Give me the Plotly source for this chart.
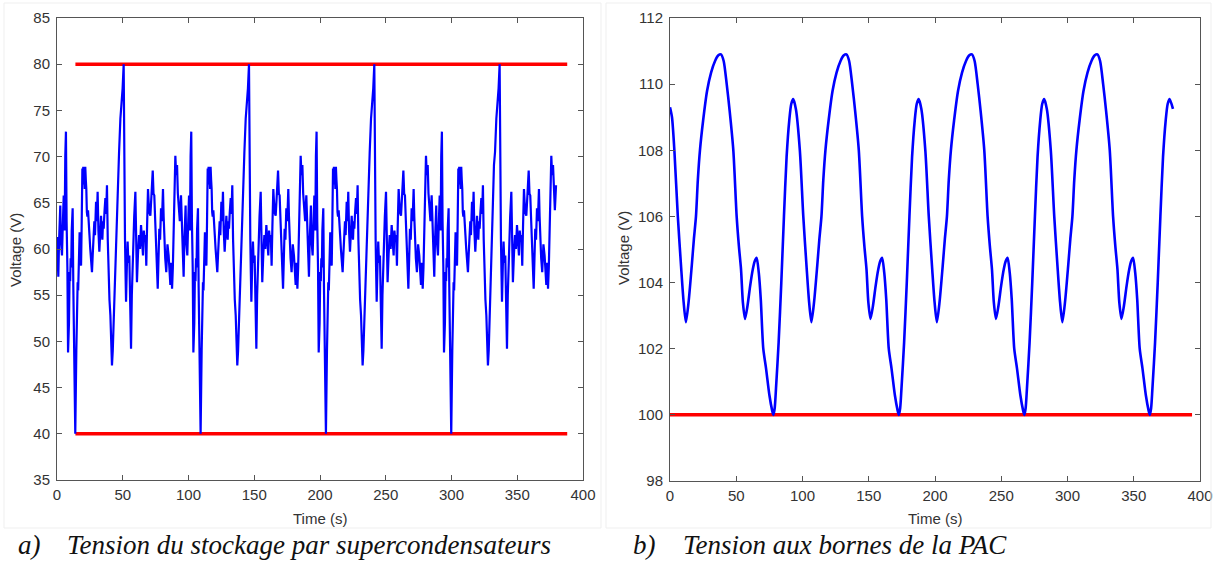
import plotly.graph_objects as go

# ---------------- Data: (a) supercapacitor storage voltage ----------------
# value pattern read from one cycle of the picture (the signal repeats ~every 95.3 s)
sc_cycle_v = [61.3, 58.5, 57.0, 60.5, 62.5, 64.7, 61.0, 59.5, 59.3, 61.5,
              63.0, 65.8, 63.5, 62.0, 70.0, 72.7, 63.0, 58.0, 48.8, 50.5,
              52.0, 57.5, 56.5, 59.0, 58.0, 62.0, 64.4, 56.0, 51.5, 50.3,
              40.0, 49.0, 54.0, 56.4, 55.5, 58.5, 57.8, 61.8, 60.5, 58.2,
              63.0, 68.7, 68.0, 68.9, 67.0, 67.5, 66.5, 68.9, 67.5, 66.5,
              64.0, 63.5, 64.2, 62.2, 61.5, 60.0, 58.5, 57.5, 59.5, 62.2,
              63.0, 61.5, 64.0, 65.1, 63.0, 66.2, 62.0, 59.7, 61.5, 63.6,
              62.0, 61.0, 63.0, 62.2, 64.0, 65.5, 63.8, 66.9, 61.0, 56.4,
              54.5, 52.8, 50.5, 47.4, 49.0, 52.1, 57.0, 61.5, 65.0, 69.1,
              70.5, 74.1, 75.5, 77.4, 80.0, 66.0, 61.1, 57.5, 54.3, 58.0,
              60.8, 58.5, 59.3, 54.5, 49.2, 55.0, 60.4, 63.5, 66.2, 61.0,
              56.4, 59.5, 61.5, 60.0, 62.6, 61.0, 59.3, 62.0, 60.8, 61.5,
              58.2, 62.5, 66.5, 64.0, 63.6, 66.0, 68.5, 66.0, 65.8, 63.0,
              60.0, 58.0, 55.7, 59.0, 62.2, 61.0, 64.4, 63.0, 66.5, 63.5,
              60.8, 59.0, 57.5, 60.5, 59.3, 57.5, 56.1, 58.5, 55.7, 58.0,
              61.5, 66.0, 70.1, 68.0, 69.1, 66.0, 64.7, 63.0, 65.8]
sc_t1 = [0.0, 0.5, 1.0, 1.5, 2.0, 2.5, 2.9, 3.3, 3.8, 4.2,
         4.6, 5.1, 5.5, 5.8, 6.3, 6.8, 7.3, 7.9, 8.4, 8.8,
         9.1, 9.6, 10.0, 10.4, 10.8, 11.2, 11.9, 12.4, 12.8, 13.2,
         13.9, 14.7, 15.2, 15.7, 16.1, 16.5, 16.9, 17.2, 17.7, 18.3,
         18.8, 19.3, 19.6, 20.0, 20.4, 20.8, 21.1, 21.5, 21.9, 22.3,
         22.7, 23.1, 23.6, 24.1, 24.7, 25.3, 25.9, 26.6, 27.2, 27.9,
         28.4, 28.9, 29.3, 29.7, 30.3, 30.9, 31.5, 32.2, 32.8, 33.5,
         34.0, 34.5, 35.0, 35.5, 36.1, 36.8, 37.4, 38.0, 38.6, 39.3,
         39.9, 40.6, 41.2, 41.8, 42.4, 43.1, 44.0, 44.9, 45.6, 46.4,
         47.2, 48.2, 49.0, 49.9, 50.7, 51.2, 51.7, 52.1, 52.5, 53.1,
         53.7, 54.3, 55.0, 55.6, 56.3, 56.9, 57.8, 58.7, 59.6, 60.2,
         60.8, 61.6, 62.4, 63.1, 63.9, 64.6, 65.4, 66.0, 66.7, 67.3,
         67.9, 68.5, 69.2, 70.1, 71.0, 71.9, 72.8, 73.4, 74.0, 74.7,
         75.5, 76.0, 76.6, 77.2, 77.8, 78.4, 79.1, 79.8, 80.6, 81.1,
         81.6, 82.3, 83.1, 84.0, 84.9, 85.5, 86.2, 86.9, 87.5, 88.1,
         88.7, 89.4, 90.0, 90.6, 91.3, 91.9, 92.5, 93.4, 94.3]
sc_t2 = [95.3, 95.8, 96.3, 96.8, 97.3, 97.8, 98.2, 98.6, 99.1, 99.5,
         99.9, 100.4, 100.8, 101.1, 101.6, 102.1, 102.6, 103.2, 103.7, 104.1,
         104.4, 104.9, 105.3, 105.7, 106.1, 106.5, 107.2, 107.7, 108.1, 108.5,
         109.2, 110.0, 110.5, 111.0, 111.4, 111.8, 112.2, 112.5, 113.0, 113.6,
         114.1, 114.6, 114.9, 115.3, 115.7, 116.1, 116.4, 116.8, 117.2, 117.6,
         118.0, 118.4, 118.9, 119.4, 120.0, 120.6, 121.2, 121.9, 122.5, 123.2,
         123.7, 124.2, 124.6, 125.0, 125.6, 126.2, 126.8, 127.5, 128.1, 128.8,
         129.3, 129.8, 130.3, 130.8, 131.4, 132.1, 132.7, 133.3, 133.9, 134.6,
         135.2, 135.9, 136.5, 137.1, 137.7, 138.4, 139.3, 140.2, 140.9, 141.7,
         142.5, 143.5, 144.3, 145.2, 146.0, 146.5, 147.0, 147.4, 147.8, 148.4,
         149.0, 149.6, 150.3, 150.9, 151.6, 152.2, 153.1, 154.0, 154.9, 155.5,
         156.1, 156.9, 157.7, 158.4, 159.2, 159.9, 160.7, 161.3, 162.0, 162.6,
         163.2, 163.8, 164.5, 165.4, 166.3, 167.2, 168.1, 168.7, 169.3, 170.0,
         170.8, 171.3, 171.9, 172.5, 173.1, 173.7, 174.4, 175.1, 175.9, 176.4,
         176.9, 177.6, 178.4, 179.3, 180.2, 180.8, 181.5, 182.2, 182.8, 183.4,
         184.0, 184.7, 185.3, 185.9, 186.6, 187.2, 187.8, 188.7, 189.6]
sc_t3 = [190.6, 191.1, 191.6, 192.1, 192.6, 193.1, 193.5, 193.9, 194.4, 194.8,
         195.2, 195.7, 196.1, 196.4, 196.9, 197.4, 197.9, 198.5, 199.0, 199.4,
         199.7, 200.2, 200.6, 201.0, 201.4, 201.8, 202.5, 203.0, 203.4, 203.8,
         204.5, 205.3, 205.8, 206.3, 206.7, 207.1, 207.5, 207.8, 208.3, 208.9,
         209.4, 209.9, 210.2, 210.6, 211.0, 211.4, 211.7, 212.1, 212.5, 212.9,
         213.3, 213.7, 214.2, 214.7, 215.3, 215.9, 216.5, 217.2, 217.8, 218.5,
         219.0, 219.5, 219.9, 220.3, 220.9, 221.5, 222.1, 222.8, 223.4, 224.1,
         224.6, 225.1, 225.6, 226.1, 226.7, 227.4, 228.0, 228.6, 229.2, 229.9,
         230.5, 231.2, 231.8, 232.4, 233.0, 233.7, 234.6, 235.5, 236.2, 237.0,
         237.8, 238.8, 239.6, 240.5, 241.3, 241.8, 242.3, 242.7, 243.1, 243.7,
         244.3, 244.9, 245.6, 246.2, 246.9, 247.5, 248.4, 249.3, 250.2, 250.8,
         251.4, 252.2, 253.0, 253.7, 254.5, 255.2, 256.0, 256.6, 257.3, 257.9,
         258.5, 259.1, 259.8, 260.7, 261.6, 262.5, 263.4, 264.0, 264.6, 265.3,
         266.1, 266.6, 267.2, 267.8, 268.4, 269.0, 269.7, 270.4, 271.2, 271.7,
         272.2, 272.9, 273.7, 274.6, 275.5, 276.1, 276.8, 277.5, 278.1, 278.7,
         279.3, 280.0, 280.6, 281.2, 281.9, 282.5, 283.1, 284.0, 284.9]
sc_t4 = [285.9, 286.4, 286.9, 287.4, 287.9, 288.4, 288.8, 289.2, 289.7, 290.1,
         290.5, 291.0, 291.4, 291.7, 292.2, 292.7, 293.2, 293.8, 294.3, 294.7,
         295.0, 295.5, 295.9, 296.3, 296.7, 297.1, 297.8, 298.3, 298.7, 299.1,
         299.8, 300.6, 301.1, 301.6, 302.0, 302.4, 302.8, 303.1, 303.6, 304.2,
         304.7, 305.2, 305.5, 305.9, 306.3, 306.7, 307.0, 307.4, 307.8, 308.2,
         308.6, 309.0, 309.5, 310.0, 310.6, 311.2, 311.8, 312.5, 313.1, 313.8,
         314.3, 314.8, 315.2, 315.6, 316.2, 316.8, 317.4, 318.1, 318.7, 319.4,
         319.9, 320.4, 320.9, 321.4, 322.0, 322.7, 323.3, 323.9, 324.5, 325.2,
         325.8, 326.5, 327.1, 327.7, 328.3, 329.0, 329.9, 330.8, 331.5, 332.3,
         333.1, 334.1, 334.9, 335.8, 336.6, 337.1, 337.6, 338.0, 338.4, 339.0,
         339.6, 340.2, 340.9, 341.5, 342.2, 342.8, 343.7, 344.6, 345.5, 346.1,
         346.7, 347.5, 348.3, 349.0, 349.8, 350.5, 351.3, 351.9, 352.6, 353.2,
         353.8, 354.4, 355.1, 356.0, 356.9, 357.8, 358.7, 359.3, 359.9, 360.6,
         361.4, 361.9, 362.5, 363.1, 363.7, 364.3, 365.0, 365.7, 366.5, 367.0,
         367.5, 368.2, 369.0, 369.9, 370.8, 371.4, 372.1, 372.8, 373.4, 374.0,
         374.6, 375.3, 375.9, 376.5, 377.2]
sc_tail_t = [378.6, 379.5]
sc_tail_v = [64.2, 66.9]
sc_limit_t = [14, 388]
sc_vmax = [80, 80]
sc_vmin = [40, 40]

# ---------------- Data: (b) fuel-cell (PAC) terminal voltage ----------------
pac_start_t = [0, 1.5, 3.3, 5.9, 8.5, 10.3]
pac_start_v = [109.3, 109.0, 108.0, 106.0, 104.4, 103.4]
pac_cycle_v = [102.8, 103.4, 104.5, 105.3, 106.0, 107.1, 108.0, 108.9, 109.8, 110.35, 110.7, 110.87,
               110.9, 110.7, 110.0, 109.2, 108.0, 106.0, 105.1, 104.4, 103.4, 102.9, 103.3, 103.9,
               104.4, 104.65, 104.75, 104.3, 103.5, 102.0, 101.4, 100.6, 100.15, 100.0, 100.2, 100.8,
               102.2, 104.0, 106.0, 107.8, 108.9, 109.4, 109.55, 109.25, 108.0, 106.0, 104.4, 103.4]
pac_t1 = [12, 14, 16.4, 18, 19.6, 21, 22.6, 25, 28, 31, 34, 36.5, 38.5, 40.5, 42.8, 45, 47.8, 50.3,
          52, 53.6, 55, 56.6, 58.5, 60.5, 62.5, 64, 65.4, 67, 68.5, 70.4, 72.5, 75, 77, 78, 79, 80,
          82, 84, 86, 88, 90, 91.5, 93, 95, 98, 100.6, 103.2, 105]
pac_t2 = [106.7, 108.7, 111.1, 112.7, 114.3, 115.7, 117.3, 119.7, 122.7, 125.7, 128.7, 131.2, 133.2,
          135.2, 137.5, 139.7, 142.5, 145.0, 146.7, 148.3, 149.7, 151.3, 153.2, 155.2, 157.2, 158.7,
          160.1, 161.7, 163.2, 165.1, 167.2, 169.7, 171.7, 172.7, 173.7, 174.7, 176.7, 178.7, 180.7,
          182.7, 184.7, 186.2, 187.7, 189.7, 192.7, 195.3, 197.9, 199.7]
pac_t3 = [201.4, 203.4, 205.8, 207.4, 209.0, 210.4, 212.0, 214.4, 217.4, 220.4, 223.4, 225.9, 227.9,
          229.9, 232.2, 234.4, 237.2, 239.7, 241.4, 243.0, 244.4, 246.0, 247.9, 249.9, 251.9, 253.4,
          254.8, 256.4, 257.9, 259.8, 261.9, 264.4, 266.4, 267.4, 268.4, 269.4, 271.4, 273.4, 275.4,
          277.4, 279.4, 280.9, 282.4, 284.4, 287.4, 290.0, 292.6, 294.4]
pac_t4 = [296.1, 298.1, 300.5, 302.1, 303.7, 305.1, 306.7, 309.1, 312.1, 315.1, 318.1, 320.6, 322.6,
          324.6, 326.9, 329.1, 331.9, 334.4, 336.1, 337.7, 339.1, 340.7, 342.6, 344.6, 346.6, 348.1,
          349.5, 351.1, 352.6, 354.5, 356.6, 359.1, 361.1, 362.1, 363.1, 364.1, 366.1, 368.1, 370.1,
          372.1, 374.1, 375.6, 377.1]
pac_tail_t = [379.6]
pac_tail_v = [109.25]
pac_limit_t = [0, 394]
pac_vmin = [100, 100]

x_ticks = [0, 50, 100, 150, 200, 250, 300, 350, 400]
sc_y_ticks = [35, 40, 45, 50, 55, 60, 65, 70, 75, 80, 85]
pac_y_ticks = [98, 100, 102, 104, 106, 108, 110, 112]

# ---------------- Assemble series ----------------
sc_t = sc_t1 + sc_t2 + sc_t3 + sc_t4 + sc_tail_t
sc_v = sc_cycle_v + sc_cycle_v + sc_cycle_v + sc_cycle_v[:len(sc_t4)] + sc_tail_v
pac_t = pac_start_t + pac_t1 + pac_t2 + pac_t3 + pac_t4 + pac_tail_t
pac_v = pac_start_v + pac_cycle_v + pac_cycle_v + pac_cycle_v + pac_cycle_v[:len(pac_t4)] + pac_tail_v

W, H = 1214, 562
BLUE = "rgb(0,0,255)"
RED = "rgb(255,0,0)"
AX = "#555555"
TXT = "#333333"

fig = go.Figure()
fig.add_trace(go.Scatter(x=sc_limit_t, y=sc_vmax, mode="lines", line=dict(color=RED, width=3.5),
                         xaxis="x", yaxis="y", showlegend=False))
fig.add_trace(go.Scatter(x=sc_limit_t, y=sc_vmin, mode="lines", line=dict(color=RED, width=3.5),
                         xaxis="x", yaxis="y", showlegend=False))
fig.add_trace(go.Scatter(x=sc_t, y=sc_v, mode="lines", line=dict(color=BLUE, width=2.2),
                         xaxis="x", yaxis="y", showlegend=False))
fig.add_trace(go.Scatter(x=pac_limit_t, y=pac_vmin, mode="lines", line=dict(color=RED, width=3.5),
                         xaxis="x2", yaxis="y2", showlegend=False))
fig.add_trace(go.Scatter(x=pac_t, y=pac_v, mode="lines",
                         line=dict(color=BLUE, width=2.6, shape="spline", smoothing=0.7),
                         xaxis="x2", yaxis="y2", showlegend=False))

tickfont = dict(family="Liberation Sans, Arial, sans-serif", size=15, color=TXT)
common = dict(showline=True, linecolor=AX, linewidth=1, mirror="ticks", ticks="inside",
              ticklen=5, tickcolor=AX, tickwidth=1, showgrid=False, zeroline=False,
              tickfont=tickfont, automargin=False)

def px_x(p):
    return p / W

def px_y(p):
    return 1 - p / H

fig.update_layout(
    width=W, height=H,
    margin=dict(l=0, r=0, t=0, b=0, pad=0, autoexpand=False),
    paper_bgcolor="white", plot_bgcolor="white",
    xaxis=dict(domain=[px_x(57), px_x(583)], range=[0, 400], tickvals=x_ticks,
               anchor="y", ticklabelstandoff=1, **common),
    yaxis=dict(domain=[px_y(480), px_y(18)], range=[35, 85], tickvals=sc_y_ticks,
               anchor="x", ticklabelstandoff=3, **common),
    xaxis2=dict(domain=[px_x(670), px_x(1200)], range=[0, 400], tickvals=x_ticks,
                anchor="y2", ticklabelstandoff=1, **common),
    yaxis2=dict(domain=[px_y(481), px_y(18)], range=[98, 112], tickvals=pac_y_ticks,
                anchor="x2", ticklabelstandoff=3, **common),
)

lab = dict(family="Liberation Sans, Arial, sans-serif", size=15, color=TXT)
cap = dict(family="Liberation Serif, Times New Roman, serif", size=27, color="#111111", style="italic")
annotations = [
    dict(text="Time (s)", x=px_x(320), y=px_y(518), font=lab),
    dict(text="Time (s)", x=px_x(935), y=px_y(518), font=lab),
    dict(text="Voltage (V)", x=px_x(15), y=px_y(250), textangle=-90, font=lab),
    dict(text="Voltage (V)", x=px_x(623), y=px_y(248), textangle=-90, font=lab),
    dict(text="a)", x=px_x(17), y=px_y(545), xanchor="left", font=cap, borderpad=0),
    dict(text="Tension du stockage par supercondensateurs", x=px_x(66), y=px_y(545),
         xanchor="left", font=cap, borderpad=0),
    dict(text="b)", x=px_x(632), y=px_y(545), xanchor="left", font=cap, borderpad=0),
    dict(text="Tension aux bornes de la PAC", x=px_x(682), y=px_y(545), xanchor="left",
         font=cap, borderpad=0),
]
for a in annotations:
    a.setdefault("xanchor", "center")
    a.update(xref="paper", yref="paper", yanchor="middle", showarrow=False)
fig.update_layout(annotations=annotations)

# faint figure-window borders
fig.add_shape(type="rect", xref="paper", yref="paper", x0=px_x(4), x1=px_x(601), y0=px_y(528),
              y1=px_y(3), line=dict(color="#efefef", width=1))
fig.add_shape(type="rect", xref="paper", yref="paper", x0=px_x(606), x1=px_x(1211), y0=px_y(528),
              y1=px_y(3), line=dict(color="#efefef", width=1))

fig.write_html(
    "out.html",
    config={"displayModeBar": False},
    post_script="document.body.style.margin='0';document.body.style.padding='0';"
                "document.body.style.overflow='hidden';",
)
